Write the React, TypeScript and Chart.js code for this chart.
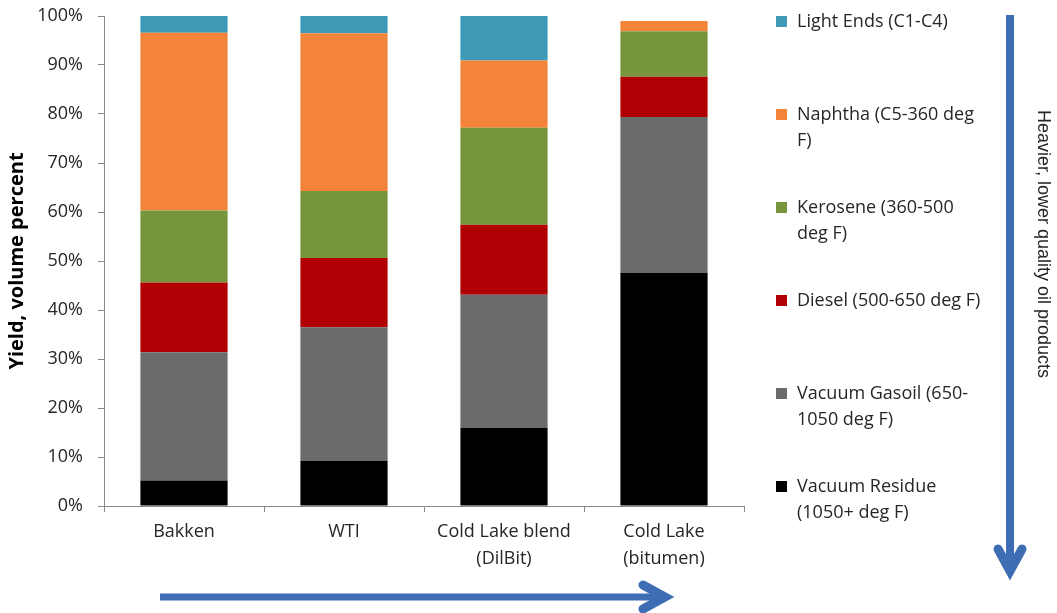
import React, { useEffect, useRef } from "react";
import { Chart, registerables } from "chart.js";

Chart.register(...registerables);

const categories: string[][] = [
  ["Bakken"],
  ["WTI"],
  ["Cold Lake blend", "(DilBit)"],
  ["Cold Lake", "(bitumen)"],
];

// Yield by fraction, volume percent (bottom of the stack first)
const vacuumResidue = [5.2, 9.2, 15.9, 47.6];
const vacuumGasoil = [26.2, 27.3, 27.2, 31.8];
const diesel = [14.2, 14.1, 14.3, 8.2];
const kerosene = [14.7, 13.7, 19.8, 9.3];
const naphtha = [36.3, 32.2, 13.7, 2.1];
const lightEnds = [3.4, 3.5, 9.1, 0];

const seriesNames = [
  "Vacuum Residue (1050+ deg F)",
  "Vacuum Gasoil (650-1050 deg F)",
  "Diesel (500-650 deg F)",
  "Kerosene (360-500 deg F)",
  "Naphtha (C5-360 deg F)",
  "Light Ends (C1-C4)",
];
const seriesColors = ["#000000", "#6b6b6b", "#b00004", "#77963c", "#f38439", "#3f9ab8"];

// Legend entries, top to bottom, as wrapped lines
const legendLines: string[][] = [
  ["Light Ends (C1-C4)"],
  ["Naphtha (C5-360 deg", "F)"],
  ["Kerosene (360-500", "deg F)"],
  ["Diesel (500-650 deg F)"],
  ["Vacuum Gasoil (650-", "1050 deg F)"],
  ["Vacuum Residue", "(1050+ deg F)"],
];
const legendColors = ["#3f9ab8", "#f38439", "#77963c", "#b00004", "#6b6b6b", "#000000"];

const yTitle = "Yield, volume percent";
const sideNote = "Heavier, lower quality oil products";

const FONT = "'Open Sans', sans-serif";
const ARROW = "#3f6db4";

const overlay = {
  id: "overlay",
  afterDraw(chart: any) {
    const ctx = chart.ctx as CanvasRenderingContext2D;
    ctx.save();

    // legend
    ctx.font = `18px ${FONT}`;
    ctx.textBaseline = "middle";
    ctx.textAlign = "left";
    const top = 22;
    const step = 93;
    legendLines.forEach((lines, i) => {
      const y = top + i * step;
      ctx.fillStyle = legendColors[i];
      ctx.fillRect(776, y - 6, 11, 11);
      ctx.fillStyle = "#262626";
      lines.forEach((t, j) => ctx.fillText(t, 797, y + j * 26));
    });

    // arrows
    ctx.strokeStyle = ARROW;
    ctx.lineCap = "butt";
    ctx.lineWidth = 8;
    ctx.beginPath();
    ctx.moveTo(1010, 15);
    ctx.lineTo(1010, 570);
    ctx.stroke();
    ctx.lineWidth = 9;
    ctx.lineCap = "round";
    ctx.lineJoin = "miter";
    ctx.beginPath();
    ctx.moveTo(998, 549);
    ctx.lineTo(1010, 571);
    ctx.lineTo(1022, 549);
    ctx.stroke();

    ctx.lineCap = "butt";
    ctx.lineWidth = 7;
    ctx.beginPath();
    ctx.moveTo(160, 597);
    ctx.lineTo(664, 597);
    ctx.stroke();
    ctx.lineWidth = 9;
    ctx.lineCap = "round";
    ctx.beginPath();
    ctx.moveTo(643, 585);
    ctx.lineTo(665, 597);
    ctx.lineTo(643, 609);
    ctx.stroke();

    // side note
    ctx.translate(1043, 244);
    ctx.rotate(Math.PI / 2);
    ctx.font = "18px 'Liberation Sans', Arial, sans-serif";
    ctx.textAlign = "center";
    ctx.fillStyle = "#262626";
    ctx.fillText(sideNote, 0, 0);

    ctx.restore();
  },
};

export default function App() {
  const ref = useRef<HTMLCanvasElement | null>(null);

  useEffect(() => {
    if (!ref.current) return;
    const series = [vacuumResidue, vacuumGasoil, diesel, kerosene, naphtha, lightEnds];
    const chart = new Chart(ref.current, {
      type: "bar",
      data: {
        labels: categories,
        datasets: series.map((d, i) => ({
          label: seriesNames[i],
          data: d,
          backgroundColor: seriesColors[i],
          borderWidth: 0,
          barPercentage: 0.545,
          categoryPercentage: 1,
        })),
      },
      options: {
        responsive: false,
        animation: false,
        devicePixelRatio: 1,
        layout: { padding: { left: 0, right: 313, top: 16, bottom: 0 } },
        plugins: {
          legend: { display: false },
          tooltip: { enabled: false },
        },
        scales: {
          x: {
            stacked: true,
            grid: {
              display: true,
              drawOnChartArea: false,
              offset: true,
              tickLength: 6,
              color: "#888888",
            },
            border: { color: "#888888", width: 1 },
            ticks: {
              color: "#262626",
              font: { family: FONT, size: 18, lineHeight: 1.5 },
              padding: 6,
              maxRotation: 0,
              autoSkip: false,
            },
            afterFit: (s: any) => {
              s.height = 107;
            },
          },
          y: {
            stacked: true,
            min: 0,
            max: 100,
            grid: {
              display: true,
              drawOnChartArea: false,
              tickLength: 6,
              color: "#888888",
            },
            border: { color: "#888888", width: 1 },
            ticks: {
              stepSize: 10,
              color: "#262626",
              font: { family: FONT, size: 18 },
              padding: 15,
              callback: (v: any) => `${v}%`,
            },
            title: {
              display: true,
              text: yTitle,
              color: "#000000",
              font: { family: FONT, size: 20, weight: "bold" },
              padding: { top: 5, bottom: 0 },
            },
            afterFit: (s: any) => {
              s.width = 104;
              s.paddingTop = 0;
              s.paddingBottom = 0;
            },
          },
        },
      },
      plugins: [overlay],
    });
    return () => chart.destroy();
  }, []);

  return (
    <div style={{ position: "fixed", left: 0, top: 0, width: 1057, height: 613, background: "#fff" }}>
      <canvas ref={ref} width={1057} height={613} style={{ width: 1057, height: 613, display: "block" }} />
    </div>
  );
}
